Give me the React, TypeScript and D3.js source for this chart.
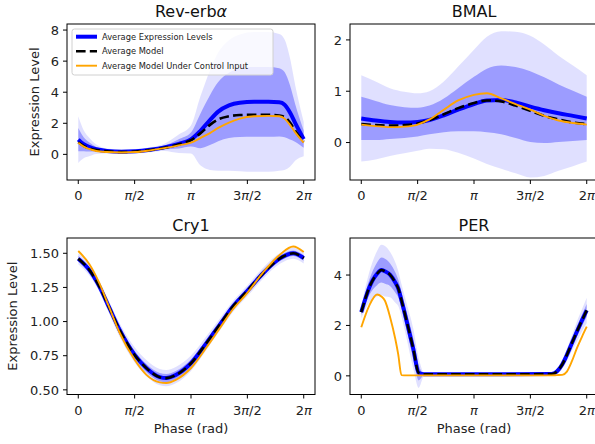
import React from "react";
import * as d3 from "d3";

const W = 595;
const H = 444;

const PHASE_TICKS = [0, Math.PI / 2, Math.PI, (3 * Math.PI) / 2, 2 * Math.PI];
const PHASE_TICK_LABELS = ["0", "π/2", "π", "3π/2", "2π"];

// Rev-erbα
const REV_PHASE = [0, 0.15, 0.3, 0.5, 0.8, 1.2, 1.6, 2.0, 2.4, 2.8, 3.14, 3.4, 3.67, 3.9, 4.2, 4.5, 4.9, 5.3, 5.6, 5.75, 5.9, 6.05, 6.283];
const REV_MEAN = [0.95, 0.65, 0.48, 0.33, 0.22, 0.17, 0.2, 0.3, 0.45, 0.68, 0.96, 1.5, 2.2, 2.75, 3.15, 3.32, 3.38, 3.38, 3.35, 3.2, 2.7, 2.0, 0.98];
const REV_MODEL = [0.78, 0.55, 0.4, 0.28, 0.2, 0.15, 0.18, 0.28, 0.42, 0.65, 0.92, 1.35, 1.9, 2.25, 2.45, 2.53, 2.55, 2.55, 2.5, 2.4, 2.05, 1.5, 0.81];
const REV_CONTROL = [0.75, 0.5, 0.35, 0.22, 0.15, 0.12, 0.15, 0.26, 0.4, 0.58, 0.75, 1.05, 1.37, 1.7, 2.05, 2.3, 2.45, 2.48, 2.45, 2.3, 1.9, 1.4, 0.75];
const REV_SD = [0.75, 0.45, 0.3, 0.15, 0.08, 0.07, 0.07, 0.08, 0.12, 0.3, 0.45, 1.1, 1.6, 1.9, 2.1, 2.2, 2.25, 2.25, 2.2, 2.1, 1.75, 1.2, 0.55];
const REV_YTICKS = [0, 2, 4, 6, 8];

// BMAL
const BMAL_PHASE = [0, 0.4, 0.8, 1.2, 1.571, 1.9, 2.3, 2.7, 3.14, 3.5, 3.9, 4.3, 4.71, 5.1, 5.5, 5.9, 6.283];
const BMAL_MEAN = [0.47, 0.43, 0.4, 0.39, 0.4, 0.44, 0.53, 0.64, 0.75, 0.82, 0.83, 0.78, 0.7, 0.63, 0.57, 0.52, 0.47];
const BMAL_MODEL = [0.36, 0.34, 0.33, 0.34, 0.37, 0.44, 0.55, 0.67, 0.77, 0.82, 0.8, 0.72, 0.62, 0.52, 0.45, 0.39, 0.36];
const BMAL_CONTROL = [0.35, 0.32, 0.3, 0.31, 0.35, 0.45, 0.64, 0.82, 0.93, 0.96, 0.86, 0.75, 0.64, 0.52, 0.43, 0.38, 0.35];
const BMAL_SD = [0.42, 0.38, 0.33, 0.3, 0.28, 0.28, 0.33, 0.42, 0.53, 0.62, 0.67, 0.69, 0.69, 0.64, 0.56, 0.49, 0.42];
const BMAL_YTICKS = [0, 1, 2];

// Cry1
const CRY_PHASE = [0, 0.31, 0.59, 0.87, 1.15, 1.571, 1.9, 2.27, 2.45, 2.73, 3.142, 3.57, 3.94, 4.31, 4.712, 5.15, 5.62, 5.99, 6.283];
const CRY_MEAN = [1.46, 1.377, 1.256, 1.098, 0.94, 0.756, 0.659, 0.593, 0.586, 0.61, 0.695, 0.842, 0.976, 1.11, 1.225, 1.354, 1.463, 1.5, 1.465];
const CRY_MODEL = [1.46, 1.377, 1.256, 1.098, 0.94, 0.756, 0.659, 0.593, 0.586, 0.61, 0.695, 0.842, 0.976, 1.11, 1.225, 1.354, 1.463, 1.5, 1.465];
const CRY_CONTROL = [1.517, 1.42, 1.28, 1.1, 0.92, 0.72, 0.61, 0.555, 0.55, 0.575, 0.66, 0.81, 0.95, 1.09, 1.21, 1.36, 1.49, 1.55, 1.51];
const CRY_SD = [0.02, 0.02, 0.02, 0.022, 0.025, 0.028, 0.03, 0.03, 0.03, 0.03, 0.028, 0.025, 0.022, 0.02, 0.02, 0.02, 0.02, 0.02, 0.02];
const CRY_YTICKS = [0.5, 0.75, 1.0, 1.25, 1.5];

// PER
const PER_PHASE = [0, 0.22, 0.44, 0.56, 0.66, 0.8, 0.95, 1.03, 1.12, 1.26, 1.45, 1.6, 1.75, 3.0, 5.3, 5.45, 5.6, 5.73, 5.87, 6.01, 6.15, 6.283];
const PER_MEAN = [2.53, 3.5, 4.05, 4.2, 4.15, 4.02, 3.7, 3.47, 3.0, 2.2, 1.07, 0.12, 0.06, 0.06, 0.07, 0.17, 0.45, 0.83, 1.3, 1.76, 2.2, 2.6];
const PER_MODEL = [2.53, 3.5, 4.05, 4.2, 4.15, 4.02, 3.7, 3.47, 3.0, 2.2, 1.07, 0.12, 0.06, 0.06, 0.07, 0.17, 0.45, 0.83, 1.3, 1.76, 2.2, 2.6];
const PER_CONTROL = [1.93, 2.78, 3.23, 3.15, 2.98, 2.35, 1.45, 0.85, 0.03, 0.02, 0.02, 0.02, 0.02, 0.02, 0.02, 0.03, 0.04, 0.17, 0.58, 1.1, 1.55, 1.95];
const PER_SD = [0.12, 0.3, 0.45, 0.5, 0.5, 0.45, 0.4, 0.35, 0.32, 0.35, 0.4, 0.3, 0.04, 0.03, 0.03, 0.05, 0.08, 0.12, 0.15, 0.2, 0.22, 0.25];
const PER_YTICKS = [0, 2, 4];

const LEGEND_LABELS = ["Average Expression Levels", "Average Model", "Average Model Under Control Input"];

const FONT = "'DejaVu Sans', sans-serif";

function PiText({ s, ...rest }: any) {
  const parts = s.split("π");
  const out: any[] = [];
  parts.forEach((p: string, i: number) => {
    if (p) out.push(<tspan key={"p" + i}>{p}</tspan>);
    if (i < parts.length - 1) out.push(<tspan key={"pi" + i} fontStyle="italic">π</tspan>);
  });
  return <text {...rest}>{out}</text>;
}

type PanelProps = {
  id: string;
  box: { l: number; r: number; t: number; b: number };
  yDomain: [number, number];
  yTicks: number[];
  yFmt: (v: number) => string;
  title: React.ReactNode;
  phase: number[];
  mean: number[];
  model: number[];
  control: number[];
  sd: number[];
  ylabelX?: number;
  showXLabel?: boolean;
  legend?: boolean;
};

function Panel(p: PanelProps) {
  const { box } = p;
  const span = 2 * Math.PI;
  const x = d3.scaleLinear().domain([-0.05 * span, 1.05 * span]).range([box.l, box.r]);
  const y = d3.scaleLinear().domain(p.yDomain).range([box.b, box.t]);
  const idx = p.phase.map((_, i) => i);
  const band = (k: number) =>
    d3
      .area<number>()
      .x((i) => x(p.phase[i]))
      .y0((i) => y(p.mean[i] - k * p.sd[i]))
      .y1((i) => y(p.mean[i] + k * p.sd[i]))
      .curve(d3.curveMonotoneX)(idx) || "";
  const line = (arr: number[]) =>
    d3
      .line<number>()
      .x((i) => x(p.phase[i]))
      .y((i) => y(arr[i]))
      .curve(d3.curveMonotoneX)(idx) || "";
  const cx = (box.l + box.r) / 2;
  const cy = (box.t + box.b) / 2;
  return (
    <g>
      <defs>
        <clipPath id={"clip-" + p.id}>
          <rect x={box.l} y={box.t} width={box.r - box.l} height={box.b - box.t} />
        </clipPath>
      </defs>
      <g clipPath={`url(#clip-${p.id})`}>
        <path d={band(2)} fill="blue" fillOpacity={0.12} />
        <path d={band(1)} fill="blue" fillOpacity={0.3} />
        <path d={line(p.mean)} fill="none" stroke="blue" strokeWidth={4} />
        <path d={line(p.model)} fill="none" stroke="black" strokeWidth={2.6} strokeDasharray="9.6,4.2" />
        <path d={line(p.control)} fill="none" stroke="orange" strokeWidth={1.9} />
      </g>
      <rect x={box.l} y={box.t} width={box.r - box.l} height={box.b - box.t} fill="none" stroke="black" strokeWidth={1} />
      {PHASE_TICKS.map((v, i) => (
        <g key={"xt" + i}>
          <line x1={x(v)} x2={x(v)} y1={box.b} y2={box.b + 4} stroke="black" strokeWidth={1} />
          <PiText s={PHASE_TICK_LABELS[i]} x={x(v)} y={box.b + 20} textAnchor="middle" fontSize={13} fontFamily={FONT} fill="#222" />
        </g>
      ))}
      {p.yTicks.map((v, i) => (
        <g key={"yt" + i}>
          <line x1={box.l - 4} x2={box.l} y1={y(v)} y2={y(v)} stroke="black" strokeWidth={1} />
          <text x={box.l - 8} y={y(v)} dy="0.36em" textAnchor="end" fontSize={13} fontFamily={FONT} fill="#222">
            {p.yFmt(v)}
          </text>
        </g>
      ))}
      <text x={cx} y={box.t - 7} textAnchor="middle" fontSize={16} fontFamily={FONT} fill="#111">
        {p.title}
      </text>
      {p.ylabelX !== undefined && (
        <text transform={`translate(${p.ylabelX},${cy}) rotate(-90)`} textAnchor="middle" fontSize={13} fontFamily={FONT} fill="#222">
          Expression Level
        </text>
      )}
      {p.showXLabel && (
        <text x={cx} y={box.b + 38} textAnchor="middle" fontSize={13} fontFamily={FONT} fill="#222">
          Phase (rad)
        </text>
      )}
      {p.legend && (
        <g>
          <rect x={box.l + 5} y={box.t + 5} width={201} height={46} rx={2.5} fill="white" fillOpacity={0.8} stroke="#d0d0d0" strokeWidth={1} />
          {LEGEND_LABELS.map((lab, i) => {
            const ly = box.t + 12.7 + i * 14.5;
            const lx = box.l + 9;
            return (
              <g key={"lg" + i}>
                {i === 0 && <line x1={lx} x2={lx + 21} y1={ly} y2={ly} stroke="blue" strokeWidth={4} />}
                {i === 1 && <line x1={lx} x2={lx + 21} y1={ly} y2={ly} stroke="black" strokeWidth={2.6} strokeDasharray="9.6,4.2" />}
                {i === 2 && <line x1={lx} x2={lx + 21} y1={ly} y2={ly} stroke="orange" strokeWidth={1.9} />}
                <text x={lx + 26} y={ly} dy="0.36em" fontSize={8.3} fontFamily={FONT} fill="#222">
                  {lab}
                </text>
              </g>
            );
          })}
        </g>
      )}
    </g>
  );
}

export default function App() {
  const fmtInt = (v: number) => d3.format("d")(v);
  const fmt2 = (v: number) => d3.format(".2f")(v);
  return (
    <svg width={W} height={H} style={{ position: "absolute", left: 0, top: 0, background: "white" }}>
      <rect x={0} y={0} width={W} height={H} fill="white" />
      <Panel
        id="rev"
        box={{ l: 67, r: 315, t: 24, b: 180 }}
        yDomain={[-1.65, 8.39]}
        yTicks={REV_YTICKS}
        yFmt={fmtInt}
        title={
          <>
            <tspan>Rev-erb</tspan>
            <tspan fontStyle="italic">α</tspan>
          </>
        }
        phase={REV_PHASE}
        mean={REV_MEAN}
        model={REV_MODEL}
        control={REV_CONTROL}
        sd={REV_SD}
        ylabelX={39}
        legend
      />
      <Panel
        id="bmal"
        box={{ l: 350, r: 598, t: 24, b: 180 }}
        yDomain={[-0.73, 2.31]}
        yTicks={BMAL_YTICKS}
        yFmt={fmtInt}
        title="BMAL"
        phase={BMAL_PHASE}
        mean={BMAL_MEAN}
        model={BMAL_MODEL}
        control={BMAL_CONTROL}
        sd={BMAL_SD}
      />
      <Panel
        id="cry"
        box={{ l: 67, r: 315, t: 238, b: 394.5 }}
        yDomain={[0.466, 1.612]}
        yTicks={CRY_YTICKS}
        yFmt={fmt2}
        title="Cry1"
        phase={CRY_PHASE}
        mean={CRY_MEAN}
        model={CRY_MODEL}
        control={CRY_CONTROL}
        sd={CRY_SD}
        ylabelX={17}
        showXLabel
      />
      <Panel
        id="per"
        box={{ l: 350, r: 598, t: 238, b: 394.5 }}
        yDomain={[-0.74, 5.47]}
        yTicks={PER_YTICKS}
        yFmt={fmtInt}
        title="PER"
        phase={PER_PHASE}
        mean={PER_MEAN}
        model={PER_MODEL}
        control={PER_CONTROL}
        sd={PER_SD}
        showXLabel
      />
    </svg>
  );
}
